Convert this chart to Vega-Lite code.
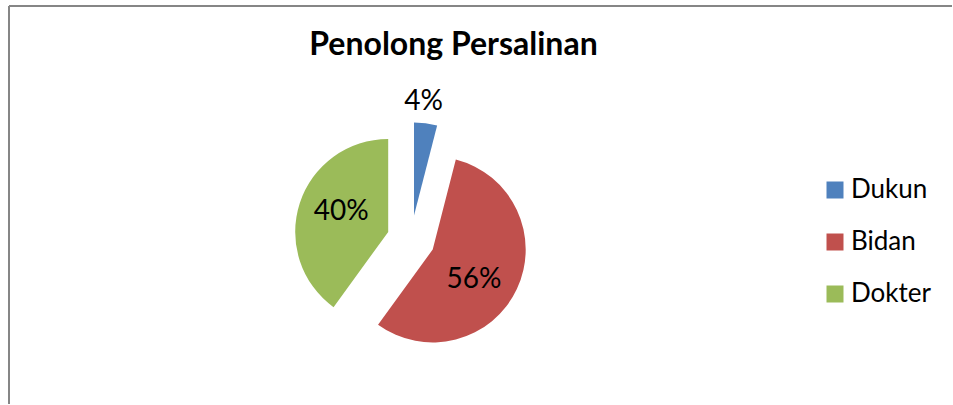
{
  "$schema": "https://vega.github.io/schema/vega-lite/v6.json",
  "usermeta": {"embedOptions": {"actions": false}},
  "autosize": {"type": "fit", "contains": "padding"},
  "width": 953,
  "height": 405,
  "padding": {"left": 8, "top": 5, "right": 0, "bottom": 0},
  "background": "white",
  "config": {
    "view": {"stroke": null}
  },
  "title": {
    "text": "Penolong Persalinan",
    "font": "Lato",
    "fontSize": 32,
    "fontWeight": "bold",
    "color": "#000000",
    "anchor": "middle",
    "frame": "group",
    "orient": "top",
    "baseline": "alphabetic",
    "offset": -82,
    "dx": -27
  },
  "data": {
    "values": [
      {"kategori": "Dukun", "persen": 4, "label": "4%", "urut": 1},
      {"kategori": "Bidan", "persen": 56, "label": "56%", "urut": 2},
      {"kategori": "Dokter", "persen": 40, "label": "40%", "urut": 3}
    ]
  },
  "transform": [
    {"stack": "persen", "groupby": [], "sort": [{"field": "urut", "order": "ascending"}], "as": ["t0", "t1"]}
  ],
  "encoding": {
    "color": {
      "field": "kategori",
      "type": "nominal",
      "scale": {"domain": ["Dukun", "Bidan", "Dokter"], "range": ["#4F81BD", "#C0504D", "#9BBB59"]},
      "legend": {
        "title": null,
        "orient": "none",
        "legendX": 813,
        "legendY": 171,
        "symbolType": "square",
        "symbolSize": 289,
        "symbolStrokeWidth": 0,
        "labelFont": "Lato",
        "labelFontSize": 26,
        "labelColor": "#000000",
        "labelOffset": 3,
        "rowPadding": 26,
        "labelLimit": 300
      }
    }
  },
  "layer": [
    {
      "mark": {"type": "rule", "strokeWidth": 2},
      "encoding": {"y": {"value": 0}, "color": {"value": "#868686"}}
    },
    {
      "mark": {"type": "rule", "strokeWidth": 2},
      "encoding": {"x": {"value": 0}, "color": {"value": "#868686"}}
    },
    {
      "transform": [{"filter": "datum.kategori === 'Dukun'"}],
      "mark": {"type": "arc", "outerRadius": 93, "xOffset": -66.5, "yOffset": 10.5},
      "encoding": {"theta": {"field": "t0", "type": "quantitative", "scale": {"domain": [0, 100], "range": [0, 6.283185307179586]}}, "theta2": {"field": "t1"}}
    },
    {
      "transform": [{"filter": "datum.kategori === 'Bidan'"}],
      "mark": {"type": "arc", "outerRadius": 93, "xOffset": -47.8, "yOffset": 44.5},
      "encoding": {"theta": {"field": "t0", "type": "quantitative"}, "theta2": {"field": "t1"}}
    },
    {
      "transform": [{"filter": "datum.kategori === 'Dokter'"}],
      "mark": {"type": "arc", "outerRadius": 93, "xOffset": -92.3, "yOffset": 26.9},
      "encoding": {"theta": {"field": "t0", "type": "quantitative"}, "theta2": {"field": "t1"}}
    },
    {
      "mark": {"type": "text", "radius": 116, "xOffset": -66.5, "yOffset": 10.5, "dx": -5, "dy": 1.5, "font": "Lato", "fontSize": 28, "baseline": "middle", "align": "center"},
      "encoding": {
        "theta": {"field": "persen", "type": "quantitative", "stack": true},
        "order": {"field": "urut"},
        "text": {"condition": {"test": "datum.kategori === 'Dukun'", "field": "label"}, "value": ""},
        "color": {"value": "#000000"}
      }
    },
    {
      "mark": {"type": "text", "radius": 50, "xOffset": -47.8, "yOffset": 44.5, "dx": -4, "dy": 9.5, "font": "Lato", "fontSize": 28, "baseline": "middle", "align": "center"},
      "encoding": {
        "theta": {"field": "persen", "type": "quantitative", "stack": true},
        "order": {"field": "urut"},
        "text": {"condition": {"test": "datum.kategori === 'Bidan'", "field": "label"}, "value": ""},
        "color": {"value": "#000000"}
      }
    },
    {
      "mark": {"type": "text", "radius": 52, "xOffset": -92.3, "yOffset": 26.9, "dx": 2.5, "dy": -3.5, "font": "Lato", "fontSize": 28, "baseline": "middle", "align": "center"},
      "encoding": {
        "theta": {"field": "persen", "type": "quantitative", "stack": true},
        "order": {"field": "urut"},
        "text": {"condition": {"test": "datum.kategori === 'Dokter'", "field": "label"}, "value": ""},
        "color": {"value": "#000000"}
      }
    }
  ]
}
